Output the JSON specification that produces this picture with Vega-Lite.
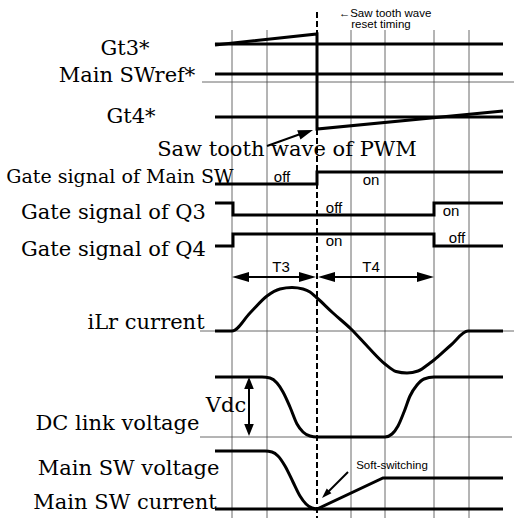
{
  "$schema": "https://vega.github.io/schema/vega-lite/v6.json",
  "width": 514,
  "height": 518,
  "padding": 0,
  "autosize": {"type": "none"},
  "background": "white",
  "config": {"view": {"stroke": null}},
  "datasets": {
    "grid": [{"x": 232}, {"x": 267}, {"x": 351}, {"x": 385}, {"x": 434}, {"x": 469}],
    "hline": [
      {"x": 202, "x2": 514, "y": 82},
      {"x": 200, "x2": 514, "y": 331},
      {"x": 200, "x2": 512, "y": 437}
    ],
    "steps": [
      {"s": "gt3", "i": 0, "x": 215, "y": 44}, {"s": "gt3", "i": 1, "x": 503, "y": 44},
      {"s": "saw", "i": 0, "x": 215, "y": 45}, {"s": "saw", "i": 1, "x": 317, "y": 34}, {"s": "saw", "i": 2, "x": 317, "y": 129}, {"s": "saw", "i": 3, "x": 503, "y": 111},
      {"s": "swref", "i": 0, "x": 215, "y": 74}, {"s": "swref", "i": 1, "x": 503, "y": 74},
      {"s": "gt4", "i": 0, "x": 215, "y": 117}, {"s": "gt4", "i": 1, "x": 503, "y": 117},
      {"s": "main", "i": 0, "x": 215, "y": 184}, {"s": "main", "i": 1, "x": 317, "y": 184}, {"s": "main", "i": 2, "x": 317, "y": 172}, {"s": "main", "i": 3, "x": 503, "y": 172},
      {"s": "q3", "i": 0, "x": 215, "y": 203}, {"s": "q3", "i": 1, "x": 233, "y": 203}, {"s": "q3", "i": 2, "x": 233, "y": 215}, {"s": "q3", "i": 3, "x": 434, "y": 215}, {"s": "q3", "i": 4, "x": 434, "y": 203}, {"s": "q3", "i": 5, "x": 503, "y": 203},
      {"s": "q4", "i": 0, "x": 215, "y": 246}, {"s": "q4", "i": 1, "x": 233, "y": 246}, {"s": "q4", "i": 2, "x": 233, "y": 234}, {"s": "q4", "i": 3, "x": 434, "y": 234}, {"s": "q4", "i": 4, "x": 434, "y": 246}, {"s": "q4", "i": 5, "x": 503, "y": 246},
      {"s": "isw", "i": 0, "x": 215, "y": 509}, {"s": "isw", "i": 1, "x": 317, "y": 509}, {"s": "isw", "i": 2, "x": 383, "y": 478}, {"s": "isw", "i": 3, "x": 503, "y": 478},
      {"s": "isw0", "i": 0, "x": 317, "y": 509}, {"s": "isw0", "i": 1, "x": 503, "y": 509}
    ],
    "curves": [
      {"s": "ilr", "x": 215, "y": 331}, {"s": "ilr", "x": 232, "y": 331}, {"s": "ilr", "x": 250, "y": 313}, {"s": "ilr", "x": 267, "y": 296}, {"s": "ilr", "x": 280, "y": 289}, {"s": "ilr", "x": 292, "y": 287.5}, {"s": "ilr", "x": 303, "y": 289}, {"s": "ilr", "x": 310, "y": 292}, {"s": "ilr", "x": 316, "y": 297}, {"s": "ilr", "x": 333, "y": 313}, {"s": "ilr", "x": 351, "y": 329}, {"s": "ilr", "x": 368, "y": 347}, {"s": "ilr", "x": 385, "y": 364}, {"s": "ilr", "x": 396, "y": 371.5}, {"s": "ilr", "x": 407, "y": 373}, {"s": "ilr", "x": 418, "y": 371}, {"s": "ilr", "x": 430, "y": 363}, {"s": "ilr", "x": 434, "y": 360}, {"s": "ilr", "x": 451, "y": 345}, {"s": "ilr", "x": 468, "y": 331}, {"s": "ilr", "x": 503, "y": 331},
      {"s": "dc", "x": 215, "y": 377}, {"s": "dc", "x": 262, "y": 377}, {"s": "dc", "x": 270, "y": 378}, {"s": "dc", "x": 277, "y": 383}, {"s": "dc", "x": 283, "y": 392}, {"s": "dc", "x": 290, "y": 407}, {"s": "dc", "x": 297, "y": 424}, {"s": "dc", "x": 303, "y": 432}, {"s": "dc", "x": 310, "y": 436}, {"s": "dc", "x": 317, "y": 437}, {"s": "dc", "x": 385, "y": 437}, {"s": "dc", "x": 392, "y": 434}, {"s": "dc", "x": 398, "y": 426}, {"s": "dc", "x": 404, "y": 412}, {"s": "dc", "x": 410, "y": 396}, {"s": "dc", "x": 417, "y": 385}, {"s": "dc", "x": 424, "y": 379}, {"s": "dc", "x": 434, "y": 377}, {"s": "dc", "x": 503, "y": 377},
      {"s": "swv", "x": 215, "y": 451}, {"s": "swv", "x": 265, "y": 451}, {"s": "swv", "x": 272, "y": 452}, {"s": "swv", "x": 278, "y": 456}, {"s": "swv", "x": 285, "y": 466}, {"s": "swv", "x": 293, "y": 482}, {"s": "swv", "x": 300, "y": 496}, {"s": "swv", "x": 306, "y": 504}, {"s": "swv", "x": 312, "y": 508}, {"s": "swv", "x": 317, "y": 509}
    ],
    "shafts": [
      {"x": 240, "y": 277, "x2": 310, "y2": 277},
      {"x": 324, "y": 277, "x2": 428, "y2": 277},
      {"x": 249, "y": 383, "x2": 249, "y2": 430},
      {"x": 348, "y": 472, "x2": 326, "y2": 494},
      {"x": 267, "y": 146, "x2": 306, "y2": 132}
    ],
    "headR": [{"x": 316, "y": 277}, {"x": 434, "y": 277}],
    "headL": [{"x": 232, "y": 277}, {"x": 318, "y": 277}],
    "headU": [{"x": 249, "y": 377}],
    "headD": [{"x": 249, "y": 436}],
    "headSaw": [{"x": 313, "y": 130}],
    "headSoft": [{"x": 322, "y": 498}],
    "serif21": [
      {"x": 125, "y": 55, "t": "Gt3*"},
      {"x": 127, "y": 82, "t": "Main SWref*"},
      {"x": 131, "y": 123, "t": "Gt4*"},
      {"x": 287, "y": 156, "t": "Saw tooth wave of PWM"},
      {"x": 113.5, "y": 219, "t": "Gate signal of Q3"},
      {"x": 113.5, "y": 256, "t": "Gate signal of Q4"},
      {"x": 146, "y": 329, "t": "iLr current"},
      {"x": 226, "y": 412, "t": "Vdc"},
      {"x": 117.5, "y": 430, "t": "DC link voltage"},
      {"x": 128.5, "y": 475, "t": "Main SW voltage"},
      {"x": 125, "y": 509, "t": "Main SW current"}
    ],
    "serif19": [{"x": 120, "y": 183, "t": "Gate signal of Main SW"}],
    "sans15": [
      {"x": 282, "y": 182, "t": "off"},
      {"x": 371, "y": 185, "t": "on"},
      {"x": 334, "y": 213, "t": "off"},
      {"x": 451, "y": 216, "t": "on"},
      {"x": 334, "y": 246, "t": "on"},
      {"x": 457, "y": 243, "t": "off"},
      {"x": 281, "y": 272, "t": "T3"},
      {"x": 371, "y": 272, "t": "T4"}
    ],
    "sans11": [
      {"x": 385, "y": 17, "t": "←Saw tooth wave"},
      {"x": 381, "y": 28, "t": "reset timing"},
      {"x": 392, "y": 469, "t": "Soft-switching"}
    ]
  },
  "layer": [
    {
      "data": {"name": "grid"},
      "mark": {"type": "rule", "color": "#444", "strokeWidth": 0.8},
      "encoding": {
        "x": {"field": "x", "type": "quantitative", "scale": {"domain": [0, 514], "nice": false, "zero": false}, "axis": null},
        "y": {"datum": 30, "type": "quantitative", "scale": {"domain": [0, 518], "reverse": true, "nice": false, "zero": false}, "axis": null},
        "y2": {"datum": 518}
      }
    },
    {
      "data": {"values": [{"x": 317}]},
      "mark": {"type": "rule", "color": "black", "strokeWidth": 2, "strokeDash": [6, 3]},
      "encoding": {
        "x": {"field": "x", "type": "quantitative", "scale": {"domain": [0, 514], "nice": false, "zero": false}, "axis": null},
        "y": {"datum": 12, "type": "quantitative", "scale": {"domain": [0, 518], "reverse": true, "nice": false, "zero": false}, "axis": null},
        "y2": {"datum": 518}
      }
    },
    {
      "data": {"name": "hline"},
      "mark": {"type": "rule", "color": "#444", "strokeWidth": 0.8},
      "encoding": {
        "x": {"field": "x", "type": "quantitative", "scale": {"domain": [0, 514], "nice": false, "zero": false}, "axis": null},
        "x2": {"field": "x2"},
        "y": {"field": "y", "type": "quantitative", "scale": {"domain": [0, 518], "reverse": true, "nice": false, "zero": false}, "axis": null}
      }
    },
    {
      "data": {"name": "steps"},
      "mark": {"type": "line", "color": "black", "strokeWidth": 3, "interpolate": "linear"},
      "encoding": {
        "x": {"field": "x", "type": "quantitative", "scale": {"domain": [0, 514], "nice": false, "zero": false}, "axis": null},
        "y": {"field": "y", "type": "quantitative", "scale": {"domain": [0, 518], "reverse": true, "nice": false, "zero": false}, "axis": null},
        "detail": {"field": "s"},
        "order": {"field": "i", "type": "quantitative"}
      }
    },
    {
      "data": {"name": "curves"},
      "mark": {"type": "line", "color": "black", "strokeWidth": 3, "interpolate": "monotone"},
      "encoding": {
        "x": {"field": "x", "type": "quantitative", "scale": {"domain": [0, 514], "nice": false, "zero": false}, "axis": null},
        "y": {"field": "y", "type": "quantitative", "scale": {"domain": [0, 518], "reverse": true, "nice": false, "zero": false}, "axis": null},
        "detail": {"field": "s"}
      }
    },
    {
      "data": {"name": "shafts"},
      "mark": {"type": "rule", "color": "black", "strokeWidth": 2},
      "encoding": {
        "x": {"field": "x", "type": "quantitative", "scale": {"domain": [0, 514], "nice": false, "zero": false}, "axis": null},
        "x2": {"field": "x2"},
        "y": {"field": "y", "type": "quantitative", "scale": {"domain": [0, 518], "reverse": true, "nice": false, "zero": false}, "axis": null},
        "y2": {"field": "y2"}
      }
    },
    {
      "data": {"name": "headR"},
      "mark": {"type": "point", "shape": "M0,0L-1,-0.3L-1,0.3Z", "filled": true, "color": "black", "opacity": 1, "size": 1156, "strokeWidth": 0},
      "encoding": {
        "x": {"field": "x", "type": "quantitative", "scale": {"domain": [0, 514], "nice": false, "zero": false}, "axis": null},
        "y": {"field": "y", "type": "quantitative", "scale": {"domain": [0, 518], "reverse": true, "nice": false, "zero": false}, "axis": null}
      }
    },
    {
      "data": {"name": "headL"},
      "mark": {"type": "point", "shape": "M0,0L1,-0.3L1,0.3Z", "filled": true, "color": "black", "opacity": 1, "size": 1156, "strokeWidth": 0},
      "encoding": {
        "x": {"field": "x", "type": "quantitative", "scale": {"domain": [0, 514], "nice": false, "zero": false}, "axis": null},
        "y": {"field": "y", "type": "quantitative", "scale": {"domain": [0, 518], "reverse": true, "nice": false, "zero": false}, "axis": null}
      }
    },
    {
      "data": {"name": "headU"},
      "mark": {"type": "point", "shape": "M0,0L-0.4,1L0.4,1Z", "filled": true, "color": "black", "opacity": 1, "size": 576, "strokeWidth": 0},
      "encoding": {
        "x": {"field": "x", "type": "quantitative", "scale": {"domain": [0, 514], "nice": false, "zero": false}, "axis": null},
        "y": {"field": "y", "type": "quantitative", "scale": {"domain": [0, 518], "reverse": true, "nice": false, "zero": false}, "axis": null}
      }
    },
    {
      "data": {"name": "headD"},
      "mark": {"type": "point", "shape": "M0,0L-0.4,-1L0.4,-1Z", "filled": true, "color": "black", "opacity": 1, "size": 576, "strokeWidth": 0},
      "encoding": {
        "x": {"field": "x", "type": "quantitative", "scale": {"domain": [0, 514], "nice": false, "zero": false}, "axis": null},
        "y": {"field": "y", "type": "quantitative", "scale": {"domain": [0, 518], "reverse": true, "nice": false, "zero": false}, "axis": null}
      }
    },
    {
      "data": {"name": "headSaw"},
      "mark": {"type": "point", "shape": "M0,0L-0.836,0.641L-1.054,0.017Z", "filled": true, "color": "black", "opacity": 1, "size": 900, "strokeWidth": 0},
      "encoding": {
        "x": {"field": "x", "type": "quantitative", "scale": {"domain": [0, 514], "nice": false, "zero": false}, "axis": null},
        "y": {"field": "y", "type": "quantitative", "scale": {"domain": [0, 518], "reverse": true, "nice": false, "zero": false}, "axis": null}
      }
    },
    {
      "data": {"name": "headSoft"},
      "mark": {"type": "point", "shape": "M0,0L0.94,-0.474L0.474,-0.94Z", "filled": true, "color": "black", "opacity": 1, "size": 400, "strokeWidth": 0},
      "encoding": {
        "x": {"field": "x", "type": "quantitative", "scale": {"domain": [0, 514], "nice": false, "zero": false}, "axis": null},
        "y": {"field": "y", "type": "quantitative", "scale": {"domain": [0, 518], "reverse": true, "nice": false, "zero": false}, "axis": null}
      }
    },
    {
      "data": {"name": "serif21"},
      "mark": {"type": "text", "font": "DejaVu Serif", "fontSize": 21, "align": "center", "baseline": "alphabetic", "color": "black"},
      "encoding": {
        "x": {"field": "x", "type": "quantitative", "scale": {"domain": [0, 514], "nice": false, "zero": false}, "axis": null},
        "y": {"field": "y", "type": "quantitative", "scale": {"domain": [0, 518], "reverse": true, "nice": false, "zero": false}, "axis": null},
        "text": {"field": "t"}
      }
    },
    {
      "data": {"name": "serif19"},
      "mark": {"type": "text", "font": "DejaVu Serif", "fontSize": 19, "align": "center", "baseline": "alphabetic", "color": "black"},
      "encoding": {
        "x": {"field": "x", "type": "quantitative", "scale": {"domain": [0, 514], "nice": false, "zero": false}, "axis": null},
        "y": {"field": "y", "type": "quantitative", "scale": {"domain": [0, 518], "reverse": true, "nice": false, "zero": false}, "axis": null},
        "text": {"field": "t"}
      }
    },
    {
      "data": {"name": "sans15"},
      "mark": {"type": "text", "font": "Liberation Sans", "fontSize": 15, "align": "center", "baseline": "alphabetic", "color": "black"},
      "encoding": {
        "x": {"field": "x", "type": "quantitative", "scale": {"domain": [0, 514], "nice": false, "zero": false}, "axis": null},
        "y": {"field": "y", "type": "quantitative", "scale": {"domain": [0, 518], "reverse": true, "nice": false, "zero": false}, "axis": null},
        "text": {"field": "t"}
      }
    },
    {
      "data": {"name": "sans11"},
      "mark": {"type": "text", "font": "Liberation Sans", "fontSize": 11.5, "align": "center", "baseline": "alphabetic", "color": "black"},
      "encoding": {
        "x": {"field": "x", "type": "quantitative", "scale": {"domain": [0, 514], "nice": false, "zero": false}, "axis": null},
        "y": {"field": "y", "type": "quantitative", "scale": {"domain": [0, 518], "reverse": true, "nice": false, "zero": false}, "axis": null},
        "text": {"field": "t"}
      }
    }
  ]
}
